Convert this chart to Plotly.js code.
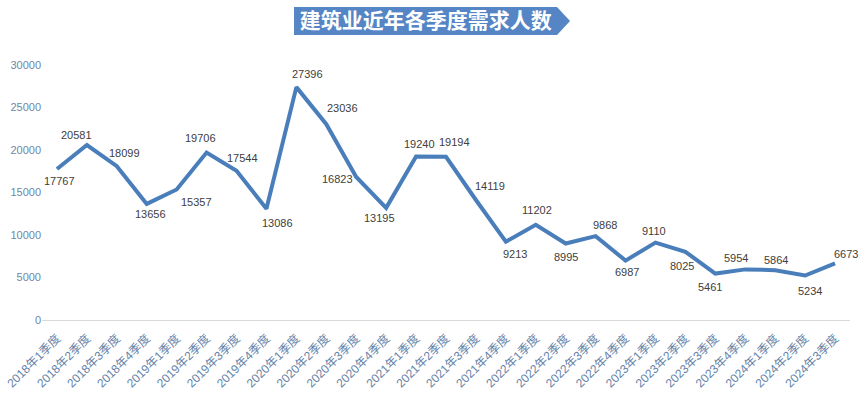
<!DOCTYPE html>
<html>
<head>
<meta charset="utf-8">
<script src="https://cdn.plot.ly/plotly-3.0.1.min.js"></script>
<style>html,body{margin:0;padding:0;background:#fff;}#chart{width:865px;height:396px;}</style>
</head>
<body>
<div id="chart"></div>
<script>
const quarters = ["2018年1季度","2018年2季度","2018年3季度","2018年4季度","2019年1季度","2019年2季度","2019年3季度","2019年4季度","2020年1季度","2020年2季度","2020年3季度","2020年4季度","2021年1季度","2021年2季度","2021年3季度","2021年4季度","2022年1季度","2022年2季度","2022年3季度","2022年4季度","2023年1季度","2023年2季度","2023年3季度","2023年4季度","2024年1季度","2024年2季度","2024年3季度"];
const demand = [17767,20581,18099,13656,15357,19706,17544,13086,27396,23036,16823,13195,19240,19194,14119,9213,11202,8995,9868,6987,9110,8025,5461,5954,5864,5234,6673];
// label offsets in pixels from each point (right, down)
const labelDx = [3,-10,8,4,20,-6,6,11,11,16,-19,-7,3,8,14,9,1,0,9,1,-1,-3,-5,-9,1,5,11];
const labelDy = [12,-10,-13,10,13,-15,-13,14,-13,-16,2,10,-12,-15,-14,12,-15,13,-11,11,-12,14,13,-11,-10,15,-9];
const titleText = "建筑业近年各季度需求人数";

const trace = {
  x: quarters,
  y: demand,
  type: "scatter",
  mode: "lines",
  line: {color: "#4a7ebb", width: 4},
  hoverinfo: "x+y"
};

const labels = demand.map((v, i) => ({
  x: quarters[i], y: v, xref: "x", yref: "y",
  text: String(v), showarrow: false,
  xanchor: "center", yanchor: "middle",
  xshift: labelDx[i], yshift: -labelDy[i],
  font: {family: "Liberation Sans, Arial, sans-serif", size: 11, color: "#404040"}
}));

const layout = {
  width: 865, height: 396,
  margin: {l: 42, r: 15, t: 65, b: 76},
  paper_bgcolor: "#ffffff", plot_bgcolor: "#ffffff",
  showlegend: false,
  title: {
    text: titleText,
    font: {family: "Noto Sans CJK SC, sans-serif", size: 21, color: "#ffffff", weight: "bold"},
    xref: "paper", x: 0.475, xanchor: "center",
    yref: "container", y: 0.947, yanchor: "middle"
  },
  annotations: labels,
  shapes: [{
    type: "path", xref: "paper", yref: "paper",
    path: "M 0.3119 1.2275 L 0.6374 1.2275 L 0.6535 1.1725 L 0.6374 1.1176 L 0.3119 1.1176 Z",
    fillcolor: "#5585c5", line: {width: 0}, layer: "below"
  }],
  xaxis: {
    type: "category",
    range: [-0.5, quarters.length - 0.5],
    autorange: false,
    tickangle: -45,
    ticklabelstandoff: 8,
    tickfont: {family: "Liberation Sans, Noto Sans CJK SC, sans-serif", size: 12, color: "#6683a8"},
    showgrid: false, showline: false, zeroline: false, ticks: "",
    automargin: false
  },
  yaxis: {
    range: [0, 30000],
    autorange: false,
    tickvals: [0,5000,10000,15000,20000,25000,30000],
    tickformat: "d",
    tickfont: {family: "Liberation Sans, sans-serif", size: 11, color: "#6f87a6"},
    showgrid: false, showline: false,
    zeroline: true, zerolinecolor: "#d9d9d9", zerolinewidth: 1,
    ticks: "", automargin: false
  }
};

Plotly.newPlot("chart", [trace], layout, {displayModeBar: false, staticPlot: true});
</script>
</body>
</html>
